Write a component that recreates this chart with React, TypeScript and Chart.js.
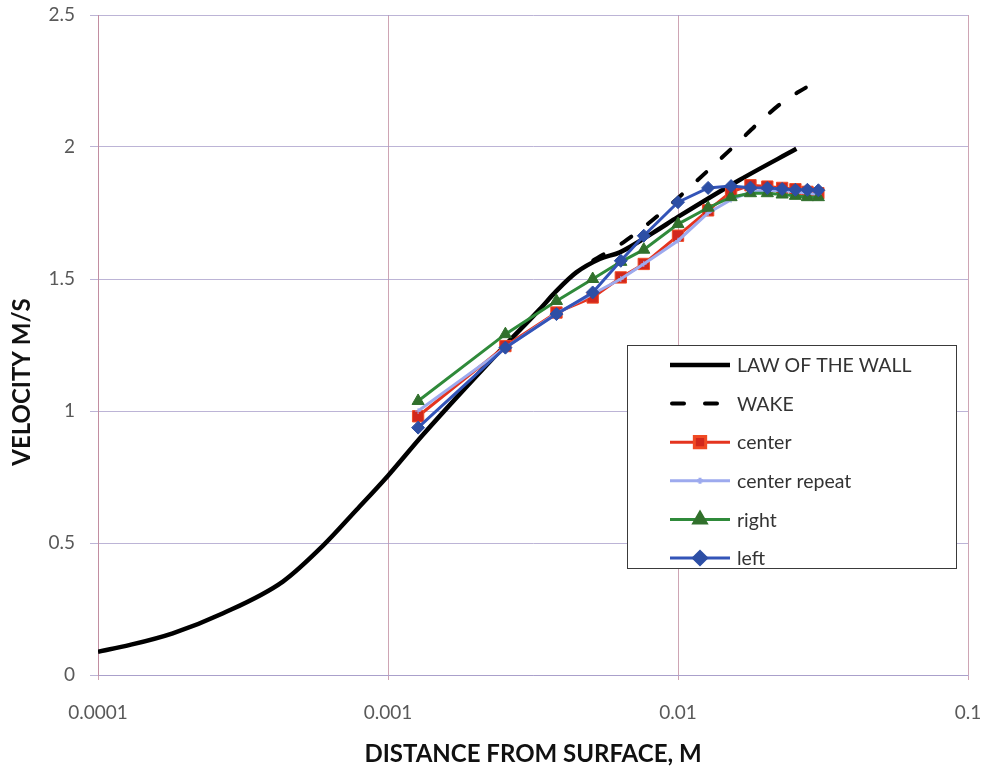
import React, { useEffect, useRef } from 'react';
import { Chart, registerables } from 'chart.js';
import { drawPoint } from 'chart.js/helpers';

Chart.register(...registerables);

// ---- data ----
const seriesNames = ['LAW OF THE WALL', 'WAKE', 'center', 'center repeat', 'right', 'left'];

const lawX = [0.0001, 0.000129, 0.000181, 0.00027, 0.000434, 0.000597, 0.000778, 0.001, 0.00132, 0.00249, 0.00334, 0.00381, 0.00446, 0.00537, 0.0063, 0.0082, 0.01, 0.0163, 0.0256];
const lawY = [0.088, 0.114, 0.158, 0.234, 0.354, 0.49, 0.625, 0.755, 0.91, 1.24, 1.386, 1.455, 1.525, 1.576, 1.601, 1.675, 1.735, 1.875, 1.993];

const wakeX = [0.0051, 0.0065, 0.0079, 0.0095, 0.0113, 0.0137, 0.0162, 0.0191, 0.0233, 0.0276];
const wakeY = [1.57, 1.64, 1.71, 1.785, 1.86, 1.945, 2.02, 2.095, 2.175, 2.225];

const measuredX = [0.00127, 0.00254, 0.00381, 0.00508, 0.00635, 0.00762, 0.01, 0.0127, 0.01524, 0.01778, 0.02032, 0.02286, 0.0254, 0.02794, 0.03048];
const centerY = [0.98, 1.246, 1.373, 1.43, 1.506, 1.557, 1.664, 1.76, 1.83, 1.855, 1.85, 1.845, 1.84, 1.83, 1.825];
const centerRepeatY = [1.0, 1.24, 1.37, 1.443, 1.5, 1.557, 1.645, 1.75, 1.8, 1.83, 1.835, 1.835, 1.83, 1.825, 1.82];
const rightY = [1.038, 1.291, 1.417, 1.5, 1.565, 1.611, 1.708, 1.77, 1.81, 1.825, 1.825, 1.82, 1.815, 1.81, 1.81];
const leftY = [0.937, 1.24, 1.367, 1.449, 1.569, 1.664, 1.791, 1.845, 1.852, 1.846, 1.845, 1.841, 1.838, 1.838, 1.836];

const xTickValues = [0.0001, 0.001, 0.01, 0.1];
const xTickLabels = ['0.0001', '0.001', '0.01', '0.1'];
const yTickValues = [0, 0.5, 1, 1.5, 2, 2.5];
const yTickLabels = ['0', '0.5', '1', '1.5', '2', '2.5'];

const xTitle = 'DISTANCE FROM SURFACE, M';
const yTitle = 'VELOCITY M/S';

const pts = (xs: number[], ys: number[]) => xs.map((x, i) => ({ x, y: ys[i] }));

const FONT = 'Lato, "Open Sans", sans-serif';

const zeroPadding = (s: any) => {
  s.paddingTop = 0;
  s.paddingBottom = 0;
  s.paddingLeft = 0;
  s.paddingRight = 0;
};

const legendPlugin = {
  id: 'boxLegend',
  afterDraw(chart: any) {
    const ctx = chart.ctx as CanvasRenderingContext2D;
    const bx = 627, by = 345, bw = 329, bh = 223;
    ctx.save();
    ctx.fillStyle = '#ffffff';
    ctx.fillRect(bx, by, bw, bh);
    ctx.strokeStyle = '#3a3a3a';
    ctx.lineWidth = 1;
    ctx.strokeRect(bx + 0.5, by + 0.5, bw, bh);
    const rowStart = by + 20;
    const rowStep = 38.6;
    chart.data.datasets.forEach((ds: any, i: number) => {
      const y = rowStart + i * rowStep;
      ctx.save();
      ctx.strokeStyle = ds.borderColor;
      ctx.lineWidth = ds.borderWidth;
      ctx.lineCap = ds.borderCapStyle || 'butt';
      ctx.setLineDash(ds.borderDash || []);
      ctx.beginPath();
      if (ds.borderDash) {
        ctx.moveTo(672, y);
        ctx.lineTo(720, y);
      } else {
        ctx.moveTo(670, y);
        ctx.lineTo(730, y);
      }
      ctx.stroke();
      ctx.setLineDash([]);
      if (ds.pointRadius > 0) {
        ctx.fillStyle = ds.pointBackgroundColor;
        ctx.strokeStyle = ds.pointBorderColor;
        drawPoint(ctx, {
          pointStyle: ds.pointStyle,
          radius: ds.pointRadius,
          rotation: 0,
          borderWidth: ds.pointBorderWidth,
        } as any, 700, y);
      }
      ctx.restore();
      ctx.fillStyle = '#333333';
      ctx.font = `19.5px ${FONT}`;
      ctx.textAlign = 'left';
      ctx.textBaseline = 'middle';
      ctx.fillText(seriesNames[i], 737, y + 1);
    });
    // y axis title
    ctx.save();
    ctx.translate(22, 382);
    ctx.rotate(-Math.PI / 2);
    ctx.font = `bold 24px ${FONT}`;
    ctx.fillStyle = '#111111';
    ctx.textAlign = 'center';
    ctx.textBaseline = 'middle';
    ctx.fillText(yTitle, 0, 0);
    ctx.restore();
    ctx.restore();
  },
};

export default function App() {
  const ref = useRef<HTMLCanvasElement | null>(null);
  useEffect(() => {
    if (!ref.current) return;
    const chart = new Chart(ref.current, {
      type: 'line',
      data: {
        datasets: [
          {
            label: seriesNames[0],
            data: pts(lawX, lawY),
            borderColor: '#000000',
            backgroundColor: '#000000',
            borderWidth: 4.5,
            pointRadius: 0,
            cubicInterpolationMode: 'monotone',
            order: 6,
          },
          {
            label: seriesNames[1],
            data: pts(wakeX, wakeY),
            borderColor: '#000000',
            backgroundColor: '#000000',
            borderWidth: 4,
            borderDash: [12, 21],
            borderCapStyle: 'round',
            pointRadius: 0,
            cubicInterpolationMode: 'monotone',
            order: 5,
          },
          {
            label: seriesNames[2],
            data: pts(measuredX, centerY),
            borderColor: '#E4341F',
            borderWidth: 3,
            pointStyle: 'rect',
            pointRadius: 8,
            pointBackgroundColor: '#D2281C',
            pointBorderColor: '#F04A24',
            pointBorderWidth: 1,
            order: 4,
          },
          {
            label: seriesNames[3],
            data: pts(measuredX, centerRepeatY),
            borderColor: '#9DAAEE',
            borderWidth: 3,
            pointStyle: 'cross',
            pointRadius: 3,
            pointBackgroundColor: '#9DAAEE',
            pointBorderColor: '#9DAAEE',
            pointBorderWidth: 1,
            order: 3,
          },
          {
            label: seriesNames[4],
            data: pts(measuredX, rightY),
            borderColor: '#2F8A3A',
            borderWidth: 3,
            pointStyle: 'triangle',
            pointRadius: 7,
            pointBackgroundColor: '#31702C',
            pointBorderColor: '#31702C',
            pointBorderWidth: 1,
            order: 2,
          },
          {
            label: seriesNames[5],
            data: pts(measuredX, leftY),
            borderColor: '#3354B8',
            borderWidth: 3,
            pointStyle: 'rectRot',
            pointRadius: 6.5,
            pointBackgroundColor: '#2D4FA5',
            pointBorderColor: '#2D4FA5',
            pointBorderWidth: 1,
            order: 1,
          },
        ] as any,
      },
      options: {
        responsive: false,
        animation: false,
        devicePixelRatio: 1,
        layout: { padding: { top: 15, right: 19, left: 0, bottom: 0 } },
        plugins: {
          legend: { display: false },
          tooltip: { enabled: false },
          title: { display: false },
        },
        elements: { line: { tension: 0 } },
        scales: {
          x: {
            type: 'logarithmic',
            min: 0.0001,
            max: 0.1,
            afterBuildTicks: (s: any) => {
              s.ticks = xTickValues.map((v) => ({ value: v }));
            },
            afterFit: (s: any) => {
              s.height = 97;
              zeroPadding(s);
            },
            ticks: {
              autoSkip: false,
              maxRotation: 0,
              padding: 21,
              color: '#595959',
              font: { family: FONT, size: 19 },
              callback: (v: any, i: number) => xTickLabels[i],
            },
            grid: { color: 'rgba(190,135,155,0.75)', lineWidth: 1, tickLength: 5 },
            border: { color: 'rgba(165,155,200,0.8)' },
            title: {
              display: true,
              text: xTitle,
              color: '#111111',
              font: { family: FONT, size: 24, weight: 'bold' },
              padding: { top: 0, bottom: 3 },
            },
          },
          y: {
            type: 'linear',
            min: 0,
            max: 2.5,
            afterBuildTicks: (s: any) => {
              s.ticks = yTickValues.map((v) => ({ value: v }));
            },
            afterFit: (s: any) => {
              s.width = 98;
              zeroPadding(s);
            },
            ticks: {
              padding: 15,
              color: '#595959',
              font: { family: FONT, size: 19 },
              callback: (v: any, i: number) => yTickLabels[i],
            },
            grid: { color: 'rgba(165,155,200,0.75)', lineWidth: 1, tickLength: 8 },
            border: { color: 'rgba(190,135,155,0.75)' },
          },
        },
      } as any,
      plugins: [legendPlugin],
    });
    return () => chart.destroy();
  }, []);
  return (
    <div style={{ position: 'fixed', left: 0, top: 0, width: 987, height: 772, background: '#fff' }}>
      <canvas ref={ref} width={987} height={772} style={{ width: 987, height: 772, display: 'block' }} />
    </div>
  );
}
